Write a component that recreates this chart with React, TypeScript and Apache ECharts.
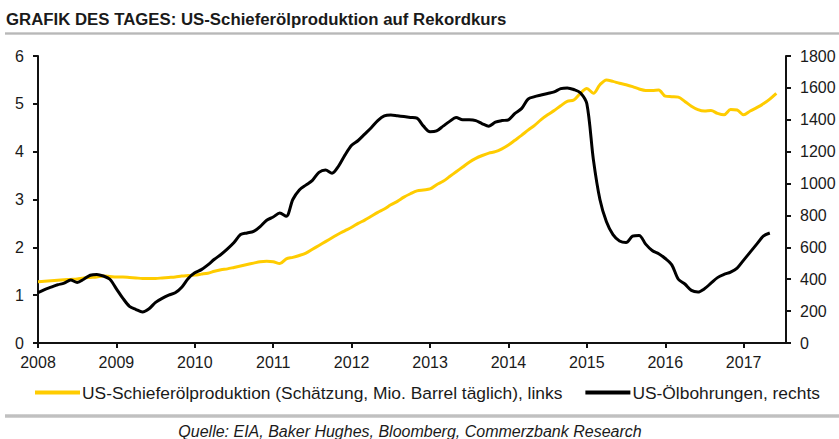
import React, { useEffect, useRef } from "react";
import * as echarts from "echarts";

// Monthly data, January 2008 onwards
const START_YEAR = 2008;
const X_MAX = 2017.54;
const yearTicks = [2008, 2009, 2010, 2011, 2012, 2013, 2014, 2015, 2016, 2017];

// US shale oil production (estimate, mn barrels per day), left axis
const shaleProduction = [
  1.28, 1.29, 1.30, 1.31, 1.32, 1.33, 1.34, 1.36, 1.37, 1.38, 1.40, 1.39,
  1.38, 1.38, 1.37, 1.36, 1.35, 1.35, 1.35, 1.36, 1.37, 1.38, 1.40, 1.41,
  1.42, 1.44, 1.46, 1.50, 1.53, 1.55, 1.58, 1.61, 1.64, 1.67, 1.70, 1.71,
  1.70, 1.66, 1.76, 1.79, 1.83, 1.88, 1.96, 2.04, 2.12, 2.20, 2.28, 2.35,
  2.42, 2.50, 2.57, 2.65, 2.73, 2.80, 2.89, 2.96, 3.05, 3.12, 3.18, 3.20,
  3.22, 3.31, 3.38, 3.48, 3.58, 3.68, 3.78, 3.86, 3.92, 3.97, 4.00, 4.06,
  4.14, 4.24, 4.34, 4.45, 4.55, 4.67, 4.77, 4.86, 4.96, 5.05, 5.08, 5.22,
  5.32, 5.22, 5.40, 5.50, 5.47, 5.43, 5.40, 5.36, 5.31, 5.28, 5.28, 5.29,
  5.16, 5.15, 5.14, 5.05, 4.95, 4.88, 4.85, 4.86, 4.80, 4.77, 4.88, 4.87,
  4.77, 4.85, 4.92, 5.00, 5.10, 5.22,
];

// US oil rigs (count), right axis
const oilRigs = [
  316, 335, 350, 365, 375, 395, 380, 400, 425, 430, 420, 400,
  340, 280, 230, 210, 195, 215, 255, 280, 300, 315, 350, 405,
  440, 460, 490, 525, 555, 590, 630, 680, 690, 700, 730, 770,
  790, 815, 795, 900, 960, 990, 1020, 1070, 1085, 1065, 1110, 1180,
  1240, 1270, 1310, 1350, 1395, 1425, 1430, 1425, 1420, 1415, 1410, 1360,
  1325, 1330, 1360, 1390, 1415, 1400, 1400, 1395, 1375, 1360, 1385, 1395,
  1400, 1440, 1470, 1530, 1545, 1555, 1565, 1575, 1595, 1600, 1590, 1570,
  1500, 1150, 900, 760, 680, 640, 630, 670, 675, 620, 580, 560,
  530, 490, 400, 370, 330, 320, 340, 375, 410, 430, 445, 470,
  520, 570, 620, 670, 690,
];

const leftTicks = { min: 0, max: 6, interval: 1 };
const rightTicks = { min: 0, max: 1800, interval: 200 };

const titleText = "GRAFIK DES TAGES: US-Schieferölproduktion auf Rekordkurs";
const sourceText = "Quelle: EIA, Baker Hughes, Bloomberg, Commerzbank Research";
const seriesNames = [
  "US-Schieferölproduktion (Schätzung, Mio. Barrel täglich), links",
  "US-Ölbohrungen, rechts",
];

const FONT = "'Liberation Sans', Arial, Helvetica, sans-serif";
const YELLOW = "#FFCC00";
const BLACK = "#000000";
const TEXT = "#1a1a1a";

const toPairs = (arr: number[]) => arr.map((v, i) => [START_YEAR + i / 12, v]);

export default function App() {
  const ref = useRef<HTMLDivElement>(null);

  useEffect(() => {
    if (!ref.current) return;
    const chart = echarts.init(ref.current, undefined, { renderer: "svg" });
    const greyBar = (y: number, h: number) => ({
      type: "rect",
      shape: { x: 5, y, width: 834, height: h },
      style: {
        fill: new echarts.graphic.LinearGradient(0, 0, 0, 1, [
          { offset: 0, color: "#d9d9d9" },
          { offset: 0.5, color: "#b8b8b8" },
          { offset: 1, color: "#d9d9d9" },
        ]),
      },
      silent: true,
    });
    chart.setOption({
      animation: false,
      backgroundColor: "#ffffff",
      textStyle: { fontFamily: FONT },
      title: {
        text: titleText,
        left: 1,
        top: 6,
        textStyle: { fontFamily: FONT, fontSize: 16.8, fontWeight: "bold", color: TEXT },
      },
      graphic: [
        greyBar(32, 3),
        greyBar(414, 4),
        {
          type: "text",
          x: 410,
          y: 431,
          style: {
            text: sourceText,
            fontFamily: FONT,
            fontSize: 16,
            fontStyle: "italic",
            fill: TEXT,
            align: "center",
            verticalAlign: "middle",
          },
        },
      ],
      legend: {
        left: 30,
        top: 379,
        itemWidth: 45,
        itemHeight: 4,
        itemGap: 23,
        icon: "rect",
        textStyle: { fontFamily: FONT, fontSize: 17.4, color: TEXT, padding: [0, 0, 0, -3] },
        data: seriesNames,
      },
      grid: { left: 38, right: 53, top: 56, bottom: 96, containLabel: false },
      xAxis: {
        type: "value",
        min: START_YEAR,
        max: X_MAX,
        interval: 1,
        splitLine: { show: false },
        axisLine: { lineStyle: { color: "#111", width: 2 } },
        axisTick: {
          length: 5,
          lineStyle: { color: "#111", width: 2 },
        },
        axisLabel: {
          margin: 11,
          fontSize: 16,
          color: TEXT,
          fontFamily: FONT,
          showMaxLabel: false,
          formatter: (v: number) =>
            yearTicks.includes(Math.round(v)) && Math.abs(v - Math.round(v)) < 1e-6
              ? String(Math.round(v))
              : "",
        },
      },
      yAxis: [
        {
          type: "value",
          position: "left",
          ...leftTicks,
          splitLine: { show: false },
          axisLine: { show: true, lineStyle: { color: "#111", width: 2 } },
          axisTick: { show: true, length: 5, lineStyle: { color: "#111", width: 2 } },
          axisLabel: {
            margin: 14,
            fontSize: 16,
            color: TEXT,
            fontFamily: FONT,
            formatter: (v: number) => String(v),
          },
        },
        {
          type: "value",
          position: "right",
          ...rightTicks,
          splitLine: { show: false },
          axisLine: { show: true, lineStyle: { color: "#111", width: 2 } },
          axisTick: { show: true, length: 5, lineStyle: { color: "#111", width: 2 } },
          axisLabel: {
            margin: 14,
            fontSize: 16,
            color: TEXT,
            fontFamily: FONT,
            formatter: (v: number) => String(v),
          },
        },
      ],
      series: [
        {
          name: seriesNames[0],
          type: "line",
          yAxisIndex: 0,
          data: toPairs(shaleProduction),
          showSymbol: false,
          symbol: "none",
          smooth: 0.3,
          color: YELLOW,
          lineStyle: { color: YELLOW, width: 3 },
          z: 3,
        },
        {
          name: seriesNames[1],
          type: "line",
          yAxisIndex: 1,
          data: toPairs(oilRigs),
          showSymbol: false,
          symbol: "none",
          smooth: 0.3,
          color: BLACK,
          lineStyle: { color: BLACK, width: 3 },
          z: 4,
        },
      ],
    });
    return () => chart.dispose();
  }, []);

  return (
    <div
      ref={ref}
      style={{ position: "absolute", left: 0, top: 0, width: 839, height: 439 }}
    />
  );
}
